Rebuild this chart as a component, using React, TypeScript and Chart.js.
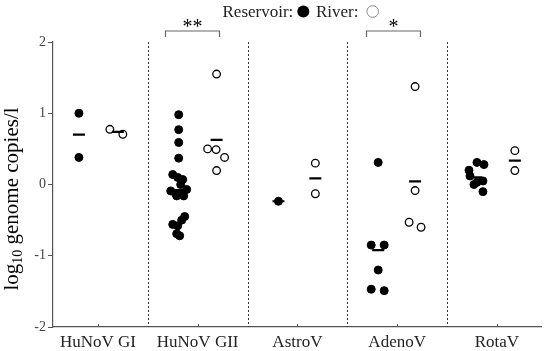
import React, { useEffect, useRef } from "react";
import { Chart, registerables } from "chart.js";
Chart.register(...registerables);

const FONT = '"Liberation Serif", "Times New Roman", serif';

const categories = ["HuNoV GI", "HuNoV GII", "AstroV", "AdenoV", "RotaV"];
const yTicks = [-2, -1, 0, 1, 2];

// Reservoir samples (filled markers): x = category position incl. jitter, y = log10 genome copies/l
const reservoirX = [
  0.81, 0.81,
  1.81, 1.81, 1.81, 1.81, 1.75, 1.80, 1.85, 1.83, 1.89, 1.73, 1.78, 1.83, 1.86, 1.79, 1.87, 1.84, 1.75, 1.80, 1.79, 1.82,
  2.81,
  3.81, 3.74, 3.87, 3.81, 3.74, 3.87,
  4.80, 4.87, 4.72, 4.73, 4.86, 4.80, 4.77, 4.86,
];
const reservoirY = [
  1.0, 0.38,
  0.98, 0.77, 0.59, 0.37, 0.14, 0.10, 0.07, 0.0, -0.07, -0.09, -0.13, -0.14, -0.16, -0.16, -0.45, -0.5, -0.56, -0.58, -0.69, -0.72,
  -0.235,
  0.31, -0.85, -0.85, -1.2, -1.47, -1.49,
  0.31, 0.28, 0.2, 0.12, 0.05, 0.03, 0.0, -0.1,
];

// River samples (open markers)
const riverX = [1.12, 1.25, 2.19, 2.1, 2.185, 2.27, 2.19, 3.18, 3.18, 4.18, 4.18, 4.12, 4.24, 5.18, 5.18];
const riverY = [0.775, 0.705, 1.55, 0.5, 0.49, 0.38, 0.196, 0.3, -0.13, 1.375, -0.085, -0.53, -0.6, 0.475, 0.196];

// Group means (short horizontal bars)
const reservoirMeanX = [0.81, 1.81, 2.81, 3.81, 4.79];
const reservoirMean = [0.7, -0.08, -0.235, -0.92, 0.1];
const riverMeanX = [1.2, 2.19, 3.18, 4.18, 5.18];
const riverMean = [0.74, 0.625, 0.085, 0.045, 0.335];

const dividers = [1.5, 2.5, 3.5, 4.5];

// Significance brackets
const bracketFrom = [1.67, 3.69];
const bracketTo = [2.21, 4.23];
const bracketLabels = ["**", "*"];

const toPoints = (xs: number[], ys: number[]) => xs.map((x, i) => ({ x, y: ys[i] }));

const decor = {
  id: "decor",
  beforeDatasetsDraw(chart: any) {
    const { ctx, chartArea, scales } = chart;
    const x = scales.x;
    const y = scales.y;
    ctx.save();
    ctx.strokeStyle = "#333";
    ctx.lineWidth = 1;
    ctx.setLineDash([2, 2]);
    dividers.forEach((d) => {
      const px = Math.round(x.getPixelForValue(d)) + 0.5;
      ctx.beginPath();
      ctx.moveTo(px, y.getPixelForValue(2));
      ctx.lineTo(px, y.getPixelForValue(-2));
      ctx.stroke();
    });
    ctx.setLineDash([]);
    ctx.strokeStyle = "#555";
    categories.forEach((_, i) => {
      const px = Math.round(x.getPixelForValue(i + 1)) + 0.5;
      ctx.beginPath();
      ctx.moveTo(px, chartArea.bottom);
      ctx.lineTo(px, chartArea.bottom - 3);
      ctx.stroke();
    });
    ctx.restore();
  },
  afterDraw(chart: any) {
    const { ctx, scales } = chart;
    const x = scales.x;
    ctx.save();
    // Legend
    const labels = [chart.data.datasets[2].label, chart.data.datasets[3].label];
    ctx.font = `17px ${FONT}`;
    ctx.fillStyle = "#222";
    ctx.textBaseline = "alphabetic";
    ctx.textAlign = "left";
    ctx.fillText(labels[0] + ":", 222.5, 17);
    ctx.beginPath();
    ctx.arc(303.3, 11.5, 6, 0, Math.PI * 2);
    ctx.fillStyle = "#000";
    ctx.fill();
    ctx.fillStyle = "#222";
    ctx.fillText(labels[1] + ":", 316, 17);
    ctx.beginPath();
    ctx.arc(372.7, 11.5, 5.8, 0, Math.PI * 2);
    ctx.strokeStyle = "#888";
    ctx.lineWidth = 1;
    ctx.stroke();

    // Y axis title with subscript
    ctx.translate(17.5, 199);
    ctx.rotate(-Math.PI / 2);
    const big = `21px ${FONT}`;
    const small = `14px ${FONT}`;
    const p1 = "log";
    const p2 = "10";
    const p3 = " genome copies/l";
    ctx.font = big;
    const w1 = ctx.measureText(p1).width;
    const w3 = ctx.measureText(p3).width;
    ctx.font = small;
    const w2 = ctx.measureText(p2).width;
    const total = w1 + w2 + w3;
    let cx = -total / 2;
    ctx.fillStyle = "#000";
    ctx.font = big;
    ctx.fillText(p1, cx, 0);
    cx += w1;
    ctx.font = small;
    ctx.fillText(p2, cx, 4);
    cx += w2;
    ctx.font = big;
    ctx.fillText(p3, cx, 0);
    ctx.setTransform(1, 0, 0, 1, 0, 0);

    // Brackets
    ctx.strokeStyle = "#666";
    ctx.lineWidth = 1.2;
    ctx.fillStyle = "#000";
    ctx.textAlign = "center";
    ctx.font = `20px ${FONT}`;
    bracketFrom.forEach((f, i) => {
      const a = Math.round(x.getPixelForValue(f)) + 0.5;
      const b = Math.round(x.getPixelForValue(bracketTo[i])) + 0.5;
      ctx.beginPath();
      ctx.moveTo(a, 37);
      ctx.lineTo(a, 31);
      ctx.lineTo(b, 31);
      ctx.lineTo(b, 37);
      ctx.stroke();
      ctx.fillText(bracketLabels[i], (a + b) / 2, 33);
    });
    ctx.restore();
  },
};

export default function App() {
  const ref = useRef<HTMLCanvasElement | null>(null);
  useEffect(() => {
    if (!ref.current) return;
    const chart = new Chart(ref.current, {
      type: "scatter",
      data: {
        datasets: [
          {
            label: "Reservoir mean",
            data: toPoints(reservoirMeanX, reservoirMean),
            pointStyle: "line",
            pointRadius: 6,
            pointBorderWidth: 2.2,
            pointBorderColor: "#000",
            pointBackgroundColor: "#000",
          },
          {
            label: "River mean",
            data: toPoints(riverMeanX, riverMean),
            pointStyle: "line",
            pointRadius: 6,
            pointBorderWidth: 2.2,
            pointBorderColor: "#000",
            pointBackgroundColor: "#000",
          },
          {
            label: "Reservoir",
            data: toPoints(reservoirX, reservoirY),
            pointRadius: 4,
            pointBorderWidth: 1,
            pointBorderColor: "#000",
            pointBackgroundColor: "#000",
          },
          {
            label: "River",
            data: toPoints(riverX, riverY),
            pointRadius: 3.8,
            pointBorderWidth: 1.3,
            pointBorderColor: "#000",
            pointBackgroundColor: "#fff",
          },
        ],
      },
      options: {
        animation: false,
        responsive: true,
        maintainAspectRatio: false,
        layout: { padding: { top: 42, right: 3, left: 0, bottom: 0 } },
        plugins: { legend: { display: false }, tooltip: { enabled: false } },
        scales: {
          x: {
            type: "linear",
            min: 0.55,
            max: 5.45,
            afterFit: (s: any) => {
              s.height = 24;
            },
            afterBuildTicks: (s: any) => {
              s.ticks = categories.map((_, i) => ({ value: i + 1 }));
            },
            grid: { display: false, drawTicks: false },
            border: { display: true, color: "#555", width: 1.2 },
            ticks: {
              padding: 5,
              color: "#222",
              font: { family: FONT, size: 17 },
              callback: (v: any) => categories[Math.round(Number(v)) - 1] ?? "",
            },
          },
          y: {
            min: -2,
            max: 2,
            afterFit: (s: any) => {
              s.width = 53;
            },
            afterBuildTicks: (s: any) => {
              s.ticks = yTicks.map((v) => ({ value: v }));
            },
            grid: { display: true, drawOnChartArea: false, drawTicks: true, tickLength: 5, color: "#555" },
            border: { display: true, color: "#555", width: 1.2 },
            ticks: {
              padding: 2,
              color: "#444",
              font: { family: FONT, size: 14 },
            },
          },
        },
      },
      plugins: [decor],
    });
    return () => chart.destroy();
  }, []);
  return (
    <div style={{ position: "fixed", left: 0, top: 0, width: 550, height: 351, background: "#fff" }}>
      <canvas ref={ref} />
    </div>
  );
}
